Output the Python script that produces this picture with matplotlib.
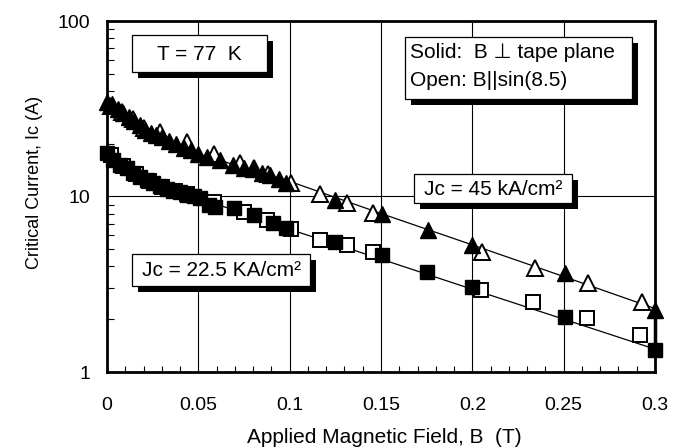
import matplotlib
matplotlib.use('Agg')
import matplotlib.pyplot as plt
from matplotlib.patches import Rectangle
from matplotlib.ticker import FixedLocator, FixedFormatter, NullFormatter

plt.rcParams['font.family'] = ['Liberation Sans', 'DejaVu Sans']

# ---------------- data ----------------
# Solid triangles: Jc = 45 kA/cm2, B perpendicular to tape plane
tri_solid_x = [0.000, 0.003, 0.006, 0.009, 0.012, 0.015, 0.018, 0.021, 0.024, 0.027,
               0.030, 0.034, 0.038, 0.042, 0.046, 0.050, 0.055, 0.062, 0.069, 0.075,
               0.080, 0.085, 0.089, 0.094, 0.098, 0.1248, 0.1504, 0.1759, 0.1997,
               0.2507, 0.300]
tri_solid_y = [34.5, 33.5, 31.5, 30.0, 28.5, 27.0, 25.5, 24.0, 23.0, 22.5,
               21.8, 20.8, 19.8, 19.0, 18.3, 17.4, 16.8, 16.1, 15.1, 14.6,
               14.4, 13.6, 13.2, 12.5, 11.9, 9.55, 8.0, 6.44, 5.29,
               3.65, 2.26]
# Open triangles: B || sin(8.5)
tri_open_x = [0.002, 0.008, 0.014, 0.020, 0.029, 0.044, 0.0586, 0.0728, 0.0805, 0.0883,
              0.1005, 0.1166, 0.1312, 0.1458, 0.2051, 0.2343, 0.2635, 0.2927]
tri_open_y = [33.0, 30.5, 27.5, 24.5, 23.4, 20.5, 17.4, 15.5, 14.6, 13.5,
              11.9, 10.4, 9.15, 8.02, 4.85, 3.90, 3.20, 2.52]
# Solid squares: Jc = 22.5 kA/cm2, B perpendicular
sq_solid_x = [0.000, 0.0035, 0.007, 0.0108, 0.0145, 0.0181, 0.022, 0.0254, 0.029, 0.0327,
              0.036, 0.040, 0.044, 0.0474, 0.051, 0.056, 0.0593, 0.0693, 0.0803, 0.091,
              0.098, 0.1248, 0.1504, 0.175, 0.1997, 0.2507, 0.300]
sq_solid_y = [17.6, 16.1, 15.2, 14.5, 13.7, 13.0, 12.4, 11.9, 11.5, 11.1,
              10.8, 10.6, 10.2, 10.0, 9.8, 9.0, 8.75, 8.57, 7.85, 7.03,
              6.59, 5.53, 4.64, 3.73, 3.06, 2.07, 1.33]
# Open squares
sq_open_x = [0.002, 0.009, 0.016, 0.023, 0.030, 0.037, 0.044, 0.0584, 0.0748, 0.0876,
             0.1005, 0.1166, 0.1312, 0.1458, 0.205, 0.2334, 0.2626, 0.2918]
sq_open_y = [17.3, 15.0, 13.4, 12.2, 11.4, 10.8, 10.3, 9.34, 8.19, 7.35,
             6.5, 5.65, 5.29, 4.85, 2.93, 2.52, 2.02, 1.62]
# Fit curves
fit_x = [0.0, 0.01, 0.02, 0.03, 0.04, 0.05, 0.075, 0.1, 0.15, 0.2, 0.25, 0.3]
fit_hi = [34.0, 29.0, 25.0, 22.0, 19.5, 17.5, 14.6, 12.2, 8.0, 5.3, 3.5, 2.3]
fit_lo = [17.5, 15.0, 13.2, 11.8, 10.7, 9.8, 8.0, 6.5, 4.4, 2.96, 2.0, 1.35]

x_ticks = [0, 0.05, 0.1, 0.15, 0.2, 0.25, 0.3]
x_ticklabels = ['0', '0.05', '0.1', '0.15', '0.2', '0.25', '0.3']
y_ticks = [1, 10, 100]
y_ticklabels = ['1', '10', '100']

# ---------------- figure ----------------
W, H = 682, 448
fig = plt.figure(figsize=(W / 100, H / 100), dpi=100)
L, R, T, B = 107, 655, 21, 372
ax = fig.add_axes([L / W, 1 - B / H, (R - L) / W, (B - T) / H])
ax.set_yscale('log')
ax.set_xlim(0, 0.3)
ax.set_ylim(1, 100)

ax.xaxis.set_major_locator(FixedLocator(x_ticks))
ax.xaxis.set_major_formatter(FixedFormatter(x_ticklabels))
ax.xaxis.set_minor_locator(FixedLocator([i * 0.01 for i in range(31)]))
ax.yaxis.set_major_locator(FixedLocator(y_ticks))
ax.yaxis.set_major_formatter(FixedFormatter(y_ticklabels))
ax.yaxis.set_minor_locator(FixedLocator([m * d for d in (1, 10) for m in range(2, 10)]))
ax.yaxis.set_minor_formatter(NullFormatter())

ax.tick_params(axis='x', which='major', direction='in', length=0, pad=18, labelsize=14)
ax.tick_params(axis='x', which='minor', direction='in', length=4, width=0.8)
ax.tick_params(axis='y', which='major', direction='in', length=0, pad=12, labelsize=14)
ax.tick_params(axis='y', which='minor', direction='in', length=5, width=0.8)

ax.grid(True, which='major', color='black', linewidth=0.8)
for s in ax.spines.values():
    s.set_linewidth(2.0)
    s.set_zorder(5)

ax.plot(fit_x, fit_hi, color='black', lw=0.9, zorder=2)
ax.plot(fit_x, fit_lo, color='black', lw=0.9, zorder=2)

ax.plot(tri_open_x, tri_open_y, ls='none', marker='^', ms=11.5, mfc='white', mec='black',
        mew=1.4, zorder=3, clip_on=False)
ax.plot(sq_open_x, sq_open_y, ls='none', marker='s', ms=9.5, mfc='white', mec='black',
        mew=1.4, zorder=3, clip_on=False)
ax.plot(tri_solid_x, tri_solid_y, ls='none', marker='^', ms=11.5, mfc='black', mec='black',
        mew=1.0, zorder=4, clip_on=False)
ax.plot(sq_solid_x, sq_solid_y, ls='none', marker='s', ms=9.5, mfc='black', mec='black',
        mew=1.0, zorder=4, clip_on=False)
ax.plot([tri_solid_x[-1], sq_solid_x[-1]], [tri_solid_y[-1], sq_solid_y[-1]], color='black',
        lw=2.5, zorder=4, clip_on=False)

ax.set_xlabel('Applied Magnetic Field, B  (T)', fontsize=15)
ax.set_ylabel('Critical Current, Ic (A)', fontsize=13)
ax.xaxis.set_label_coords((384 - L) / (R - L), (B - 437) / (B - T))
ax.yaxis.set_label_coords((35 - L) / (R - L), (B - 182) / (B - T))
ax.xaxis.label.set_va('center')
ax.yaxis.label.set_va('center')


def px2ax(x, y):
    return (x - L) / (R - L), (B - y) / (B - T)


def shadow_box(x0, y0, x1, y1, off=6):
    ax0, ay1 = px2ax(x0, y1)
    ax1, ay0 = px2ax(x1, y0)
    w, h = ax1 - ax0, ay0 - ay1
    dx, dy = off / (R - L), off / (B - T)
    ax.add_patch(Rectangle((ax0 + dx, ay1 - dy), w, h, transform=ax.transAxes,
                           facecolor='black', edgecolor='black', lw=0, zorder=6, clip_on=False))
    ax.add_patch(Rectangle((ax0, ay1), w, h, transform=ax.transAxes,
                           facecolor='white', edgecolor='black', lw=0.9, zorder=7, clip_on=False))


shadow_box(132, 35, 267, 72)
ax.text(*px2ax(199.5, 54), 'T = 77  K', transform=ax.transAxes, ha='center', va='center',
        fontsize=15, zorder=8)

shadow_box(405, 37, 632, 99)
ax.text(*px2ax(410, 52), 'Solid:  B ⊥ tape plane', transform=ax.transAxes, ha='left', va='center',
        fontsize=15, zorder=8)
ax.text(*px2ax(410, 80), 'Open: B||sin(8.5)', transform=ax.transAxes, ha='left', va='center',
        fontsize=15, zorder=8)

shadow_box(414, 174, 572, 203)
ax.text(*px2ax(493, 189), 'Jc = 45 kA/cm²', transform=ax.transAxes, ha='center', va='center',
        fontsize=15, zorder=8)

shadow_box(132, 254, 310, 286)
ax.text(*px2ax(221, 270), 'Jc = 22.5 KA/cm²', transform=ax.transAxes, ha='center', va='center',
        fontsize=15, zorder=8)

fig.savefig('out.png', dpi=100)
